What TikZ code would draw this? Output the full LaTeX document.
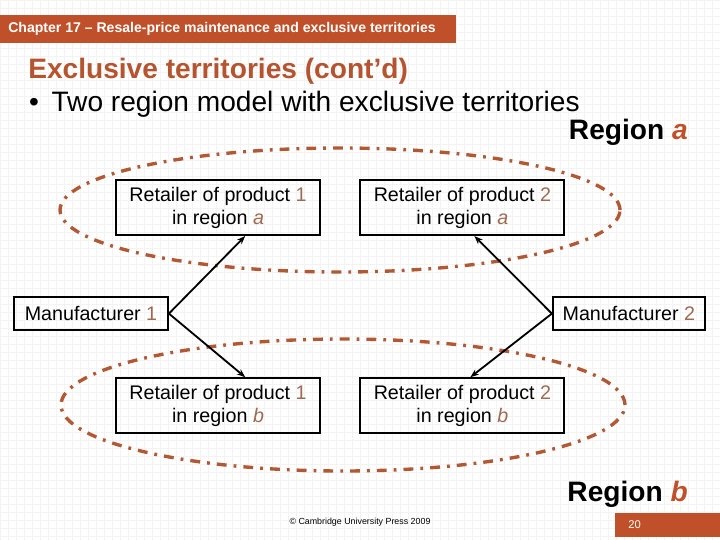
\documentclass[tikz,border=0pt]{standalone}
\usepackage{fontspec}
\setmainfont{Liberation Sans}
\usetikzlibrary{arrows.meta,positioning,calc}
\definecolor{cBar}{RGB}{192,80,42}
\definecolor{cTitle}{RGB}{181,84,46}
\definecolor{cDigit}{RGB}{158,106,80}
\definecolor{cLoop}{RGB}{178,88,50}
\definecolor{cGrid}{RGB}{243,243,243}

\begin{document}
\begin{tikzpicture}[
				>={Stealth[length=6pt,width=4.5pt]},
				box/.style={
					draw=black,line width=1.3pt,
					minimum width=5.1cm,minimum height=1.375cm,
					align=center,font=\fontsize{14}{16.5}\selectfont,inner sep=2pt
				},
				maker/.style={box,minimum height=0.825cm},
				link/.style={->,line width=1.3pt},
				territory/.style={
					cLoop,line width=2.4pt,
					dash pattern=on 7pt off 5pt on 2pt off 5pt
				},
				heading/.style={anchor=west,inner sep=0pt,font=\fontsize{20}{24}\selectfont}
				]
				% background and frame
				\useasboundingbox (0,0) rectangle (18,-13.5);
				\draw[cGrid,line width=0.25pt,step=0.2cm] (0,0) grid (18,-13.5);
				\fill[cBar] (0,-0.375) rectangle (11.4,-1.075);
				\node[anchor=west,inner sep=0pt,text=white,font=\fontsize{10}{12}\selectfont\bfseries]
				(chap) at (0.2,-0.73) {Chapter 17 – Resale-price maintenance and exclusive territories};

				\node[heading,text=cTitle,font=\fontsize{20}{24}\selectfont\bfseries] (title) at (0.7,-1.78) {Exclusive territories (cont’d)};
				\node[heading] (bullet) at (0.72,-2.6) {•\hspace{9pt}Two region model with exclusive territories};

				% the two territories
				\draw[territory] (8.5,-5.25) ellipse [x radius=7.0cm,y radius=1.55cm];
				\draw[territory] (8.575,-10.125) ellipse [x radius=7.05cm,y radius=1.65cm];

				\node[anchor=east,inner sep=0pt,font=\fontsize{20}{24}\selectfont\bfseries] (rega) at (17.2,-3.3) {Region \textcolor{cBar}{\itshape a}};
				\node[anchor=east,inner sep=0pt,font=\fontsize{20}{24}\selectfont\bfseries] (regb) at (17.2,-12.36) {Region \textcolor{cBar}{\itshape b}};

				\node[box] (r1a) at (5.45,-5.19)   {Retailer of product \textcolor{cDigit}{1}\\in region \textcolor{cDigit}{\itshape a}};
				\node[box] (r2a) at (11.56,-5.19)  {Retailer of product \textcolor{cDigit}{2}\\in region \textcolor{cDigit}{\itshape a}};
				\node[box] (r1b) at (5.45,-10.14)  {Retailer of product \textcolor{cDigit}{1}\\in region \textcolor{cDigit}{\itshape b}};
				\node[box] (r2b) at (11.56,-10.14) {Retailer of product \textcolor{cDigit}{2}\\in region \textcolor{cDigit}{\itshape b}};
				\node[maker,minimum width=3.85cm] (m1) at (2.275,-7.84) {Manufacturer \textcolor{cDigit}{1}};
				\node[maker,minimum width=3.8cm]  (m2) at (15.72,-7.84) {Manufacturer \textcolor{cDigit}{2}};

				\draw[link] (m1.east) -- ([xshift=0.68cm]r1a.south);
				\draw[link] (m1.east) -- ([xshift=0.68cm]r1b.north);
				\draw[link] (m2.west) -- ([xshift=0.3cm]r2a.south);
				\draw[link] (m2.west) -- ([xshift=0.2cm]r2b.north);

				% footer
				\node[inner sep=0pt,font=\fontsize{6.3}{7}\selectfont] (copy) at (9.0,-13.05) {© Cambridge University Press 2009};
				\fill[cBar] (15.375,-12.825) rectangle (18,-13.425);
				\node[anchor=west,inner sep=0pt,text=white,font=\fontsize{8}{9}\selectfont] (page) at (15.7,-13.12) {20};
			\end{tikzpicture}
\end{document}
